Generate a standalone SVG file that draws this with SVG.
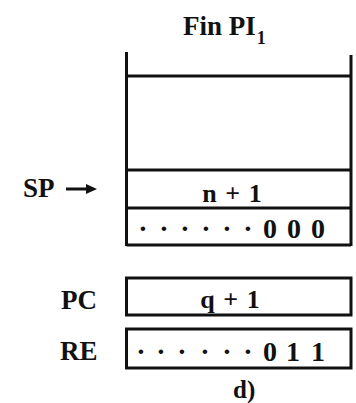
<svg xmlns="http://www.w3.org/2000/svg" width="356" height="403" viewBox="0 0 356 403">
<style>
.ln{stroke:#111;stroke-width:3;fill:none}
.t{font-family:"Liberation Serif","Times New Roman",serif;font-weight:bold;fill:#111}
.c{text-anchor:middle}
</style>
<rect width="356" height="403" fill="#fff"/>
<g id="title"><text class="t" x="183" y="35" font-size="27">Fin PI<tspan font-size="18" dy="9" dx="1">1</tspan></text></g>
<g id="stack">
<path class="ln" d="M126.5 52V246M351 55V246M126.5 76H351M126.5 170H351M126.5 208H351M126.5 245H351"/>
<text class="t c" x="232" y="202" font-size="26" word-spacing="2">n + 1</text>
<text class="t c" font-size="28" x="143 164 185 206 227 248 270 294 318" y="238">······000</text>
</g>
<g id="sp"><text class="t" x="23" y="197" font-size="27">SP</text></g>
<g id="pc">
<text class="t" x="61" y="309" font-size="27">PC</text>
<rect class="ln" x="126.5" y="278" width="224.5" height="37"/>
<text class="t c" x="230" y="308" font-size="26" word-spacing="2">q + 1</text>
</g>
<g id="re">
<text class="t" x="60" y="360" font-size="27">RE</text>
<rect class="ln" x="126.5" y="329" width="224.5" height="39"/>
<text class="t c" font-size="28" x="141 161 182 205 227 248 270 293 318" y="361">······011</text>
</g>
<g id="caption"><text class="t" x="233" y="398" font-size="25">d)</text></g>
<g id="connectors">
<path class="ln" d="M66 189H89" stroke-width="2.5"/>
<polygon points="86,184 97,189 86,194" fill="#111"/>
</g>
</svg>
